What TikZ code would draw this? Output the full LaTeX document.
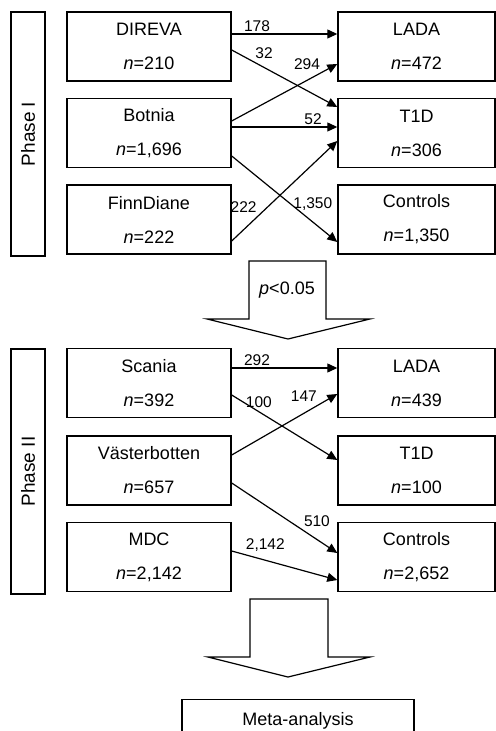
\documentclass[tikz,border=0pt]{standalone}
\usepackage{fontspec}
\setmainfont{Liberation Sans}
\usetikzlibrary{arrows.meta,positioning,calc}

\begin{document}
\begin{tikzpicture}[
    x=0.5pt, y=-0.5pt,
    box/.style={draw, line width=0.7pt, minimum width=82pt, minimum height=34.5pt,
                align=center, inner sep=0pt, font=\fontsize{9}{17}\selectfont},
    rbox/.style={box, minimum width=78.5pt},
    phase/.style={draw, line width=0.7pt, rotate=90, minimum height=17pt,
                  inner sep=0pt, font=\fontsize{9.5}{11}\selectfont},
    flow/.style={-{Triangle[length=5pt,width=4.5pt]}, line width=0.6pt},
    lbl/.style={font=\fontsize{7.75}{9}\selectfont, inner sep=1pt},
    bigarrow/.style={draw, line width=0.6pt, fill=white}
]
    \path[use as bounding box, clip] (0,0) rectangle (496,731);

    % Phase I
    \node[phase, minimum width=122pt] (phaseI) at (28,134) {Phase I};
    \node[box] (direva) at (149,46.5)  {DIREVA\\\textit{n}=210};
    \node[box] (botnia) at (149,133)   {Botnia\\\textit{n}=1,696};
    \node[box] (finn)   at (149,219.5) {FinnDiane\\\textit{n}=222};
    \node[rbox] (ladaI) at (416.5,46.5)  {LADA\\\textit{n}=472};
    \node[rbox] (t1dI)  at (416.5,133)   {T1D\\\textit{n}=306};
    \node[rbox] (ctrlI) at (416.5,219.5) {Controls\\\textit{n}=1,350};

    \draw[flow] ($(direva.east)+(0,-12.5)$) -- node[lbl, pos=0.24, above] (n178) {178} ($(ladaI.west)+(0,-12.5)$);
    \draw[flow] ($(direva.east)+(0,3.5)$) -- node[lbl, pos=0.2, above right] (n32) {32} ($(t1dI.west)+(0,-26)$);
    \draw[flow] ($(botnia.east)+(0,-12)$) -- node[lbl, pos=0.86, above left] (n294) {294} ($(ladaI.west)+(0,17.5)$);
    \draw[flow] ($(botnia.east)+(0,-6)$) -- node[lbl, pos=0.77, above] (n52) {52} ($(t1dI.west)+(0,-6)$);
    \draw[flow] ($(botnia.east)+(0,23)$) -- node[lbl, pos=0.56, right] (n1350) {1,350} ($(ctrlI.west)+(0,22.5)$);
    \draw[flow] ($(finn.east)+(0,21.5)$) -- node[lbl, pos=0.26, above left] (n222) {222} ($(t1dI.west)+(0,8)$);

    % p-value step
    \draw[bigarrow] (249,261) -- (326,261) -- (326,319) -- (370,319) -- (288,339)
        -- (207,319) -- (249,319) -- cycle;
    \node[font=\fontsize{9}{11}\selectfont] (pval) at (287,290) {\textit{p}<0.05};

    % Phase II
    \node[phase, minimum width=122.5pt] (phaseII) at (28,471.5) {Phase II};
    \node[box] (scania) at (149,383)   {Scania\\\textit{n}=392};
    \node[box] (vaster) at (149,470.5) {Västerbotten\\\textit{n}=657};
    \node[box] (mdc)    at (149,557)   {MDC\\\textit{n}=2,142};
    \node[rbox] (ladaII) at (416.5,383)   {LADA\\\textit{n}=439};
    \node[rbox] (t1dII)  at (416.5,470.5) {T1D\\\textit{n}=100};
    \node[rbox] (ctrlII) at (416.5,557)   {Controls\\\textit{n}=2,652};

    \draw[flow] ($(scania.east)+(0,-15)$) -- node[lbl, pos=0.24, above] (n292) {292} ($(ladaII.west)+(0,-15)$);
    \draw[flow] ($(scania.east)+(0,12)$) -- node[lbl, pos=0.11, right] (n100) {100} ($(t1dII.west)+(0,-10.5)$);
    \draw[flow] ($(vaster.east)+(0,-15.5)$) -- node[lbl, pos=0.83, above left] (n147) {147} ($(ladaII.west)+(0,11)$);
    \draw[flow] ($(vaster.east)+(0,12.5)$) -- node[lbl, pos=0.66, above right] (n510) {510} ($(ctrlII.west)+(0,-4)$);
    \draw[flow] ($(mdc.east)+(0,-6)$) -- node[lbl, pos=0.11, above right] (n2142) {2,142} ($(ctrlII.west)+(0,23)$);

    % meta-analysis step
    \draw[bigarrow] (250,599) -- (328,599) -- (328,657) -- (370,657) -- (288,677)
        -- (208,657) -- (250,657) -- cycle;
    \node[box, minimum width=116pt, minimum height=0pt, anchor=north,
          text height=12.75pt, text depth=20pt] (meta) at (298,699) {Meta-analysis};
\end{tikzpicture}
\end{document}
